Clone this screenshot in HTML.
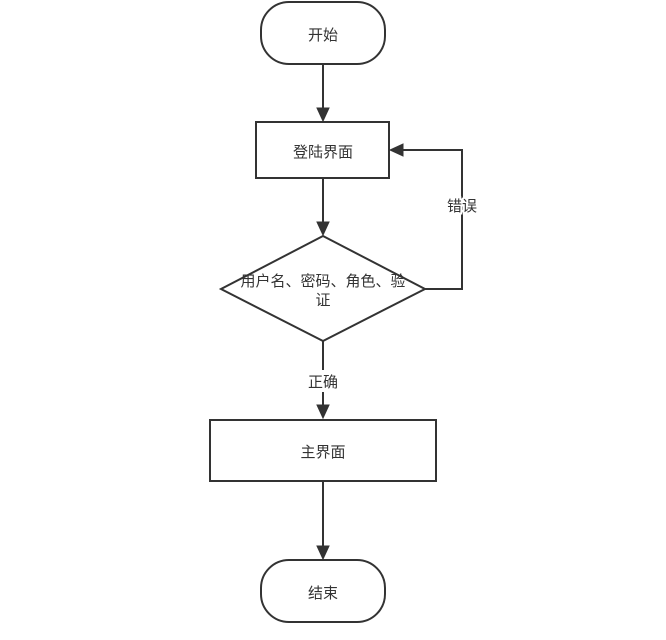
<!DOCTYPE html>
<html><head><meta charset="utf-8"><style>body{margin:0;background:#fff}</style></head><body>
<svg width="666" height="635" xmlns="http://www.w3.org/2000/svg" font-family="Liberation Sans, Noto Sans CJK SC, sans-serif" font-size="15" fill="#333">
<g stroke="#333" stroke-width="2" fill="none">
<rect x="261" y="2" width="124" height="62" rx="28"/>
<rect x="256" y="122" width="133" height="56"/>
<polygon points="323,236 425,289 323,341 221,289"/>
<rect x="210" y="420" width="226" height="61"/>
<rect x="261" y="560" width="124" height="62" rx="28"/>
<line x1="323" y1="64" x2="323" y2="110"/>
<line x1="323" y1="178" x2="323" y2="224"/>
<line x1="323" y1="341" x2="323" y2="370"/>
<line x1="323" y1="392" x2="323" y2="408"/>
<line x1="323" y1="481" x2="323" y2="548"/>
<polyline points="425,289 462,289 462,150 401,150"/>
</g>
<g fill="#333" stroke="#333" stroke-width="1">
<polygon points="317,108 329,108 323,121"/>
<polygon points="317,222 329,222 323,235"/>
<polygon points="317,405 329,405 323,418"/>
<polygon points="317,546 329,546 323,559"/>
<polygon points="403,144 403,156 390,150"/>
</g>
<g text-anchor="middle" stroke="none">
<text x="323" y="40">开始</text>
<text x="323" y="157">登陆界面</text>
<text x="323" y="286">用户名、密码、角色、验</text>
<text x="323" y="305">证</text>
<text x="323" y="387">正确</text>
<text x="462" y="211" style="paint-order:stroke" stroke="#fff" stroke-width="4">错误</text>
<text x="323" y="457">主界面</text>
<text x="323" y="598">结束</text>
</g>
</svg>
</body></html>
